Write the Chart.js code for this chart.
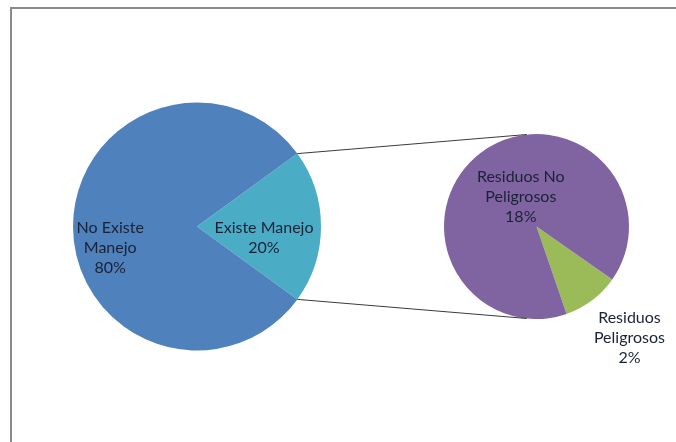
<!DOCTYPE html>
<html>
<head>
<meta charset="utf-8">
<script src="https://cdn.jsdelivr.net/npm/chart.js@4"></script>
<style>
  html, body { margin: 0; padding: 0; background: #fff; }
  #wrap { position: relative; width: 676px; height: 442px; overflow: hidden; background: #fff; }
  #frame { position: absolute; left: 10px; top: 7px; width: 720px; height: 500px; border: 2px solid #8a8a8a; box-sizing: border-box; }
  canvas { position: absolute; left: 0; top: 0; }
</style>
</head>
<body>
<div id="wrap">
  <div id="frame"></div>
  <canvas id="c1" width="676" height="442"></canvas>
  <canvas id="c2" width="676" height="442"></canvas>
</div>
<script>
// ---- data ----
const mainCategories = ['Existe Manejo', 'No Existe Manejo'];
const mainValues = [20, 80];
const subCategories = ['Residuos Peligrosos', 'Residuos No Peligrosos'];
const subValues = [2, 18];
const mainLabels = [['Existe Manejo', '20%'], ['No Existe', 'Manejo', '80%']];
const subLabels = [['Residuos', 'Peligrosos', '2%'], ['Residuos No', 'Peligrosos', '18%']];

// ---- style ----
const mainColors = ['#4BACC6', '#4F81BD'];
const subColors = ['#9BBB59', '#8064A2'];
const FONT = '16px Lato';
const TEXT = '#1a2236';
const LINE_H = 20;
// label anchor as fraction of radius (x, y) from pie centre
const mainLabelPos = [[0.54, 0.093], [-0.70, 0.173]];
const subLabelPos = [[1.005, 1.205], [-0.17, -0.32]];

function labelPlugin(labels, pos) {
  return {
    id: 'lbl',
    afterDatasetsDraw(chart) {
      const ctx = chart.ctx;
      const arcs = chart.getDatasetMeta(0).data;
      ctx.save();
      ctx.font = FONT;
      ctx.fillStyle = TEXT;
      ctx.textAlign = 'center';
      ctx.textBaseline = 'middle';
      arcs.forEach((a, i) => {
        const cx = a.x + a.outerRadius * pos[i][0];
        const cy = a.y + a.outerRadius * pos[i][1];
        const lines = labels[i];
        const y0 = cy - (lines.length - 1) * LINE_H / 2;
        lines.forEach((t, k) => ctx.fillText(t, cx, y0 + k * LINE_H));
      });
      ctx.restore();
    }
  };
}

const baseOpts = {
  responsive: false,
  animation: false,
  plugins: { legend: { display: false }, tooltip: { enabled: false } },
};

const chart1 = new Chart(document.getElementById('c1'), {
  type: 'pie',
  data: { labels: mainCategories, datasets: [{ data: mainValues, backgroundColor: mainColors, borderWidth: 0 }] },
  options: Object.assign({}, baseOpts, {
    rotation: 54,
    layout: { padding: { left: 73, top: 102.5, right: 355, bottom: 91.5 } }
  }),
  plugins: [labelPlugin(mainLabels, mainLabelPos)]
});

const connectorPlugin = {
  id: 'conn',
  afterDatasetsDraw(chart) {
    const a = chart1.getDatasetMeta(0).data[0];
    const b = chart.getDatasetMeta(0).data[0];
    const ctx = chart.ctx;
    const tilt = 6 * Math.PI / 180;
    const p1 = [a.x + a.outerRadius * Math.cos(a.startAngle), a.y + a.outerRadius * Math.sin(a.startAngle)];
    const p2 = [a.x + a.outerRadius * Math.cos(a.endAngle), a.y + a.outerRadius * Math.sin(a.endAngle)];
    const q1 = [b.x + b.outerRadius * Math.cos(-Math.PI / 2 - tilt), b.y + b.outerRadius * Math.sin(-Math.PI / 2 - tilt)];
    const q2 = [b.x + b.outerRadius * Math.cos(Math.PI / 2 + tilt), b.y + b.outerRadius * Math.sin(Math.PI / 2 + tilt)];
    ctx.save();
    ctx.strokeStyle = '#3a3a3a';
    ctx.lineWidth = 1;
    ctx.beginPath();
    ctx.moveTo(p1[0], p1[1]); ctx.lineTo(q1[0], q1[1]);
    ctx.moveTo(p2[0], p2[1]); ctx.lineTo(q2[0], q2[1]);
    ctx.stroke();
    ctx.restore();
  }
};

const chart2 = new Chart(document.getElementById('c2'), {
  type: 'pie',
  data: { labels: subCategories, datasets: [{ data: subValues, backgroundColor: subColors, borderWidth: 0 }] },
  options: Object.assign({}, baseOpts, {
    rotation: 125,
    layout: { padding: { left: 443.5, top: 134, right: 46.5, bottom: 123 } }
  }),
  plugins: [connectorPlugin, labelPlugin(subLabels, subLabelPos)]
});
</script>
</body>
</html>
